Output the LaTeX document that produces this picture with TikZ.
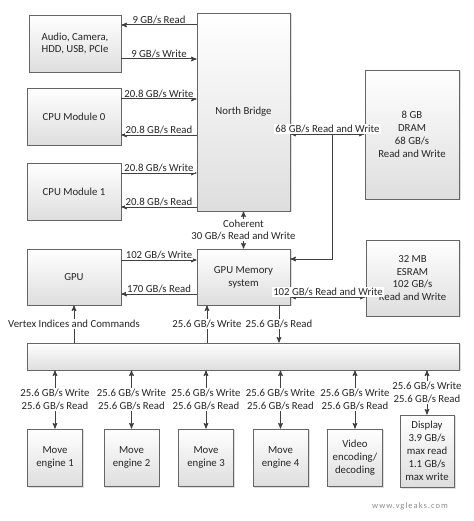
\documentclass[tikz,border=0pt]{standalone}
\usepackage{fontspec}
\setmainfont{Carlito}
\usetikzlibrary{arrows}
\usetikzlibrary{shadows}

\tikzset{
 blk/.style={draw=black!60, line width=.9pt, shading=axis, top color=white, bottom color=black!13,
  drop shadow={opacity=.25, shadow xshift=1.5pt, shadow yshift=-1.5pt},
  align=center, inner sep=0pt, text=black!85, font=\fontsize{10.8}{12.9}\selectfont},
 lnk/.style={black!75, line width=1pt, >=stealth'},
 lbl/.style={fill=white, inner sep=1, align=center, text=black!85, font=\fontsize{10.8}{12.9}\selectfont},
}

\begin{document}
\begin{tikzpicture}[x=1bp, y=-1bp]
\useasboundingbox (0,0) rectangle (474,521);
% boxes
\node[blk, minimum width=92bp, minimum height=57bp] (audio) at (75,43.5) {Audio, Camera,\\HDD, USB, PCIe};
\node[blk, minimum width=94bp, minimum height=57bp] (cpu0) at (74,116.5) {CPU Module 0};
\node[blk, minimum width=94bp, minimum height=57bp] (cpu1) at (74,191.5) {CPU Module 1};
\node[blk, minimum width=93bp, minimum height=198bp] (nb) at (243.5,112) {North Bridge};
\node[blk, minimum width=94bp, minimum height=129bp] (dram) at (412,134.5) {8 GB\\DRAM\\68 GB/s\\Read and Write};
\node[blk, minimum width=94bp, minimum height=56bp] (gpu) at (74,277) {GPU};
\node[blk, minimum width=93bp, minimum height=56bp] (gpumem) at (243.5,277) {GPU Memory\\system};
\node[blk, minimum width=93bp, minimum height=76bp] (esram) at (412.5,278) {32 MB\\ESRAM\\102 GB/s\\Read and Write};
\node[blk, minimum width=432bp, minimum height=27bp] (bar) at (243,356.5) {};
\foreach \n/\x/\t in {mv1/55/{Move\\engine 1}, mv2/131.5/{Move\\engine 2}, mv3/206/{Move\\engine 3}, mv4/280.5/{Move\\engine 4}, video/355/{Video\\encoding/\\decoding}} {
 \node[blk, minimum width=55bp, minimum height=57bp] (\n) at (\x,457.5) {\t};
 \draw[lnk,<->] (bar.south -| \n.north) -- node[lbl]{25.6 GB/s Write\\25.6 GB/s Read} (\n.north);
}
\node[blk, minimum width=54bp, minimum height=72bp] (disp) at (427,451) {Display\\3.9 GB/s\\max read\\1.1 GB/s\\max write};
\draw[lnk,<->] (bar.south -| disp.north) -- node[lbl]{25.6 GB/s Write\\25.6 GB/s Read} (disp.north);

% north bridge links
\draw[lnk,<-] (audio.east |- 0,25) -- node[lbl,above]{9 GB/s Read} (nb.west |- 0,25);
\draw[lnk,->] (audio.east |- 0,59) -- node[lbl,above]{9 GB/s Write} (nb.west |- 0,59);
\foreach \m/\yw/\yr in {cpu0/99/135, cpu1/173/207} {
 \draw[lnk,->] (\m.east |- 0,\yw) -- node[lbl,above]{20.8 GB/s Write} (nb.west |- 0,\yw);
 \draw[lnk,<-] (\m.east |- 0,\yr) -- node[lbl,above]{20.8 GB/s Read} (nb.west |- 0,\yr);
}
\draw[lnk,<->] (nb.east |- 0,134) -- node[lbl,above]{68 GB/s Read and Write} (dram.west |- 0,134);
\coordinate (tap) at (332,134);
\draw[lnk,->] (tap) |- (gpumem.east |- 0,259);
\draw[lnk,<->] (nb.south) -- node[lbl]{Coherent\\30 GB/s Read and Write} (gpumem.north);

% gpu links
\draw[lnk,->] (gpu.east |- 0,260) -- node[lbl,above]{102 GB/s Write} (gpumem.west |- 0,260);
\draw[lnk,<-] (gpu.east |- 0,294) -- node[lbl,above]{170 GB/s Read} (gpumem.west |- 0,294);
\draw[lnk,<->] (gpumem.east |- 0,297) -- node[lbl,above]{102 GB/s Read and Write} (esram.west |- 0,297);
\draw[lnk,->] (bar.north -| gpu.south) -- node[lbl]{Vertex Indices and Commands} (gpu.south);
\draw[lnk,->] (bar.north -| 207,0) -- node[lbl]{25.6 GB/s Write} (gpumem.south -| 207,0);
\draw[lnk,->] (gpumem.south -| 279,0) -- node[lbl]{25.6 GB/s Read} (bar.north -| 279,0);

\node[text=black!45, font=\fontsize{8.5}{10}\selectfont\addfontfeatures{LetterSpace=12}] (site) at (410,506) {www.vgleaks.com};
\end{tikzpicture}
\end{document}
